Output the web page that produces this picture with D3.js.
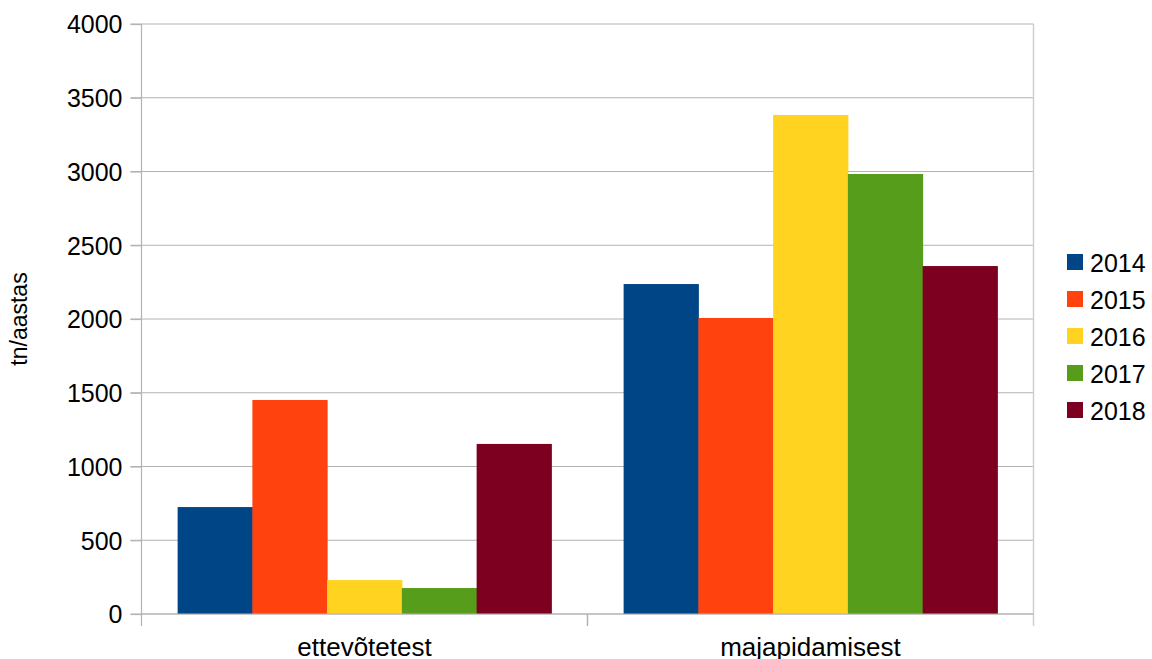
<!DOCTYPE html>
<html>
<head>
<meta charset="utf-8">
<script src="https://cdn.jsdelivr.net/npm/d3@7"></script>
<style>
  body { margin: 0; background: #fff; }
  text { font-family: "Liberation Sans", Arial, sans-serif; fill: #000; }
</style>
</head>
<body>
<svg id="chart"></svg>
<script>
const categories = ['ettevõtetest', 'majapidamisest']
const years = ['2014', '2015', '2016', '2017', '2018']
const colors = ['#004586', '#ff420e', '#ffd320', '#579d1c', '#7e0021']
const values2014 = [725, 2237]
const values2015 = [1451, 2007]
const values2016 = [230, 3383]
const values2017 = [176, 2983]
const values2018 = [1153, 2359]
const yTicks = [0, 500, 1000, 1500, 2000, 2500, 3000, 3500, 4000]

const series = [values2014, values2015, values2016, values2017, values2018]

const width = 1152, height = 659
const margin = { top: 24, right: 118.5, bottom: 45, left: 141.5 }
const innerW = width - margin.left - margin.right
const innerH = height - margin.top - margin.bottom

const svg = d3.select('#chart')
    .attr('width', width)
    .attr('height', height)

const chart = svg.append('g')
    .attr('transform', `translate(${margin.left}, ${margin.top})`)

const x0 = d3.scaleBand().domain(categories).range([0, innerW]).padding(0)
const groupPad = x0.bandwidth() * 0.081
const x1 = d3.scaleBand().domain(years).range([groupPad, x0.bandwidth() - groupPad])
const y = d3.scaleLinear().domain([0, 4000]).range([innerH, 0])

// gridlines
chart.selectAll('.grid')
    .data(yTicks)
    .join('line')
        .attr('class', 'grid')
        .attr('x1', -11).attr('x2', innerW)
        .attr('y1', d => y(d)).attr('y2', d => y(d))
        .attr('stroke', '#b3b3b3')
        .attr('stroke-width', 1.2)

// right border
chart.append('line')
    .attr('x1', innerW).attr('x2', innerW)
    .attr('y1', 0).attr('y2', innerH + 12)
    .attr('stroke', '#d0d0d0').attr('stroke-width', 1.5)

// bars
const groups = chart.selectAll('.group')
    .data(categories)
    .join('g')
        .attr('class', 'group')
        .attr('transform', d => `translate(${x0(d)}, 0)`)

groups.selectAll('rect')
    .data((d, i) => years.map((yr, j) => ({ yr, v: series[j][i], c: colors[j] })))
    .join('rect')
        .attr('x', d => x1(d.yr))
        .attr('y', d => y(d.v))
        .attr('width', x1.bandwidth() + 0.5)
        .attr('height', d => innerH - y(d.v))
        .attr('fill', d => d.c)

// y axis
const yAxis = d3.axisLeft(y).tickValues(yTicks).tickFormat(d3.format('d')).tickSize(11).tickPadding(8)
const yAxisGroup = chart.append('g').call(yAxis)
yAxisGroup.select('.domain').attr('stroke', '#b3b3b3').attr('stroke-width', 1.2)
    .attr('d', `M0,0V${innerH + 12}`)
yAxisGroup.selectAll('.tick line').attr('stroke', '#b3b3b3').attr('stroke-width', 1.2)
yAxisGroup.selectAll('text').style('font-size', '25px').attr('dy', '0.35em')

// x axis
chart.append('line')
    .attr('x1', 0).attr('x2', innerW)
    .attr('y1', innerH).attr('y2', innerH)
    .attr('stroke', '#b3b3b3').attr('stroke-width', 1.2)

chart.selectAll('.xtick')
    .data(categories.slice(1))
    .join('line')
        .attr('class', 'xtick')
        .attr('x1', d => x0(d)).attr('x2', d => x0(d))
        .attr('y1', innerH).attr('y2', innerH + 12)
        .attr('stroke', '#b3b3b3').attr('stroke-width', 1.5)

chart.selectAll('.xlabel')
    .data(categories)
    .join('text')
        .attr('class', 'xlabel')
        .attr('x', d => x0(d) + x0.bandwidth() / 2)
        .attr('y', innerH + 42)
        .attr('text-anchor', 'middle')
        .style('font-size', '26px')
        .text(d => d)

// y title
svg.append('text')
    .attr('transform', `translate(27, ${margin.top + innerH / 2}) rotate(-90)`)
    .attr('text-anchor', 'middle')
    .style('font-size', '23px')
    .text('tn/aastas')

// legend
const legend = svg.append('g')
    .attr('transform', 'translate(1067, 254)')

const items = legend.selectAll('.item')
    .data(years)
    .join('g')
        .attr('class', 'item')
        .attr('transform', (d, i) => `translate(0, ${i * 37})`)

items.append('rect')
    .attr('width', 16).attr('height', 16)
    .attr('fill', (d, i) => colors[i])

items.append('text')
    .attr('x', 23)
    .attr('y', 17.5)
    .style('font-size', '25px')
    .text(d => d)
</script>
</body>
</html>
